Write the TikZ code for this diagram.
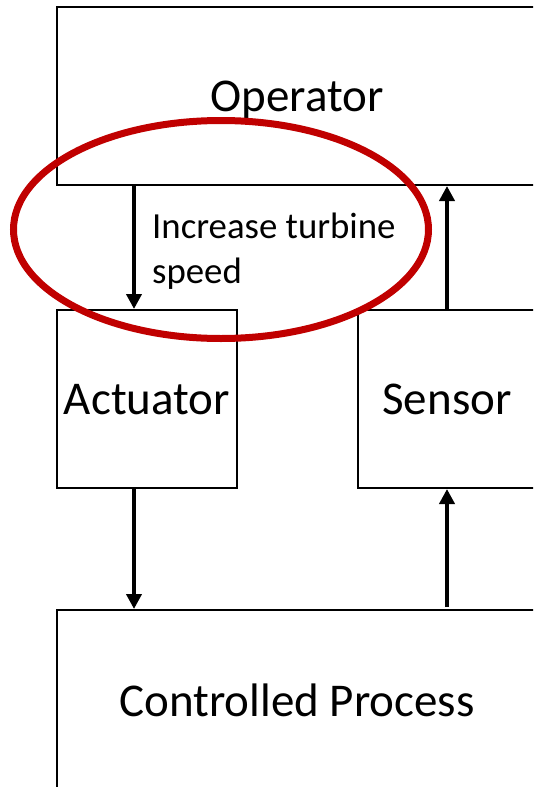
\documentclass[tikz,border=0pt]{standalone}
\usepackage{fontspec}
\setmainfont{Carlito}
\usetikzlibrary{arrows.meta}
\definecolor{ovalred}{RGB}{192,0,0}
\begin{document}
\begin{tikzpicture}[x=1pt,y=-1pt,
  box/.style={draw=black, line width=2pt, fill=white, rectangle, inner sep=0pt,
    font=\fontsize{47}{56}\selectfont, text height=30pt, text depth=0pt},
  arr/.style={line width=4pt, -{Triangle[length=15pt,width=15pt]}},
  lbl/.style={inner sep=0pt, align=left, font=\fontsize{36.8}{45}\selectfont}]
\useasboundingbox (0,0) rectangle (533,787);
\clip (0,0) rectangle (533,787);
\node[box, minimum width=480pt, minimum height=178pt] (op) at (297,96) {Operator};
\node[box, minimum width=180pt, minimum height=178pt] (act) at (147,399) {Actuator};
\node[box, minimum width=178pt, minimum height=178pt] (sen) at (447,399) {Sensor};
\node[box, minimum width=480pt, minimum height=182pt] (proc) at (297,701) {Controlled Process};
\coordinate (xl) at (134,0);
\coordinate (xr) at (447,0);
\draw[arr] (xl |- op.south) -- (xl |- act.north);
\draw[arr] (xr |- sen.north) -- (xr |- op.south);
\draw[arr] (xl |- act.south) -- (xl |- proc.north);
\draw[arr] ([yshift=2pt]xr |- proc.north) -- (xr |- sen.south);
\node[lbl, anchor=north west] (cmd) at (152,213) {Increase turbine\\speed};
\draw[ovalred, line width=7pt] (221,229.5) ellipse [x radius=207.5, y radius=109];
\end{tikzpicture}
\end{document}
